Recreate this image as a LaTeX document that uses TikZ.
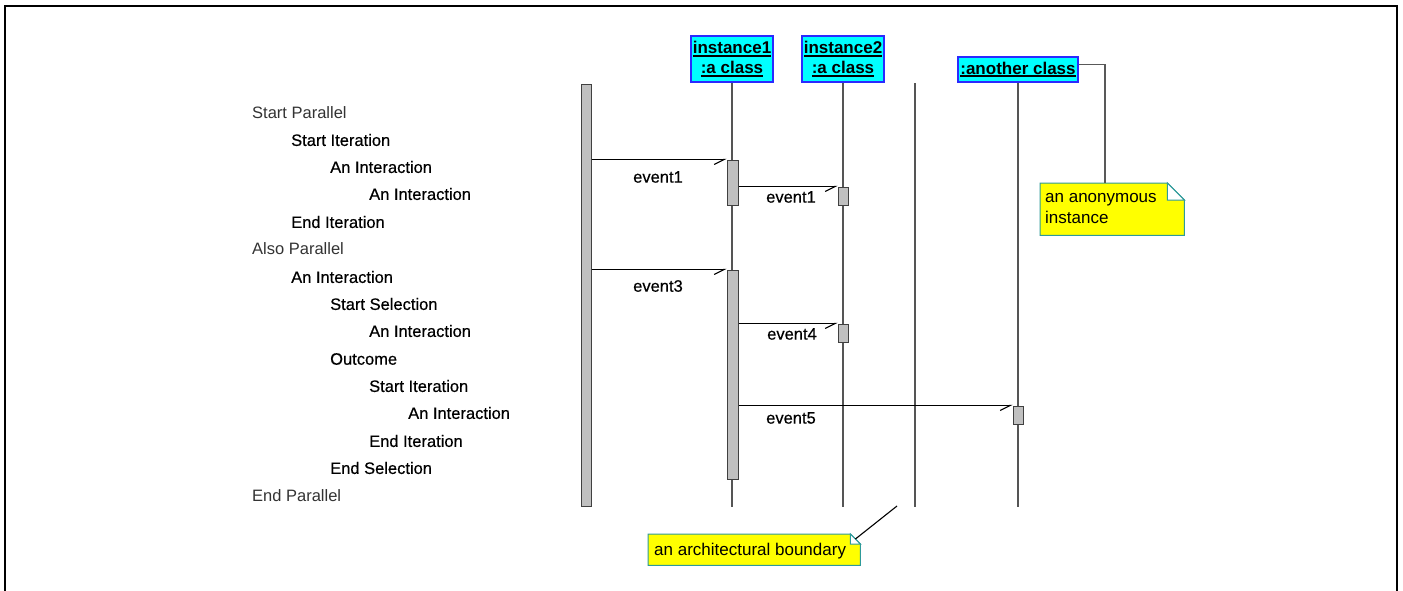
\documentclass[tikz,border=0pt]{standalone}
\usepackage{fontspec}
\setmainfont{Liberation Sans}
\newfontfamily\heavyfont[FakeBold=0.5]{Liberation Sans}
\usetikzlibrary{arrows.meta}
\definecolor{objfill}{HTML}{00FFFF}
\definecolor{objline}{HTML}{2A2AFF}
\definecolor{notefill}{HTML}{FFFF00}
\definecolor{noteline}{HTML}{2E9A9A}
\definecolor{actfill}{HTML}{C0C0C0}
\definecolor{lifegray}{HTML}{555555}
\newcommand{\ulbold}[1]{\setbox0\hbox{#1}\rlap{\rule[-2.8pt]{\wd0}{2pt}}\box0}
\tikzset{
  x=1pt, y=-1pt,
  frame/.style={line width=2.4pt, black},
  item/.style={anchor=west, inner sep=0pt, font=\fontsize{16.5}{18}\selectfont\heavyfont},
  plitem/.style={anchor=west, inner sep=0pt, font=\fontsize{16.5}{18}\selectfont, text=black!80},
  objbox/.style={draw=objline, fill=objfill, line width=1.2pt, inner sep=0pt,
    align=center, font=\fontsize{17}{21}\selectfont\bfseries},
  life/.style={draw=lifegray, line width=1.1pt},
  actbox/.style={draw=black!75, fill=actfill, line width=1pt, inner sep=0pt},
  msg/.style={draw=black, line width=1.3pt,
    -{Straight Barb[right, length=10pt, width=10pt, line width=1.1pt]}},
  evlabel/.style={inner sep=0pt, font=\fontsize{16.5}{18}\selectfont\heavyfont},
  notetext/.style={inner sep=0pt, align=left, anchor=north west,
    font=\fontsize{17}{21}\selectfont},
  notelink/.style={draw=black!65, line width=1.1pt},
}
\begin{document}
\begin{tikzpicture}
\useasboundingbox (0,0) rectangle (1403,590);
% outer frame, open at the bottom
\draw[frame] (5,595) -- (5,6) -- (1397,6) -- (1397,595);

% textual script of the interaction
\node[plitem] (t1)  at (252,113) {Start Parallel};
\node[item]   (t2)  at (291,140) {Start Iteration};
\node[item]   (t3)  at (330,167) {An Interaction};
\node[item]   (t4)  at (369,194) {An Interaction};
\node[item]   (t5)  at (291,222) {End Iteration};
\node[plitem] (t6)  at (252,249) {Also Parallel};
\node[item]   (t7)  at (291,277) {An Interaction};
\node[item]   (t8)  at (330,304) {Start Selection};
\node[item]   (t9)  at (369,331) {An Interaction};
\node[item]   (t10) at (330,359) {Outcome};
\node[item]   (t11) at (369,386) {Start Iteration};
\node[item]   (t12) at (408,413) {An Interaction};
\node[item]   (t13) at (369,441) {End Iteration};
\node[item]   (t14) at (330,468) {End Selection};
\node[plitem] (t15) at (252,496) {End Parallel};

% system border bar on the left
\node[actbox, minimum width=10pt, minimum height=422pt] (bar) at (586,295) {};

% object heads
\node[objbox, minimum width=82pt, minimum height=46pt] (i1) at (732,59)
  {\raisebox{-2pt}{\ulbold{instance1}}\\\raisebox{-1pt}{\ulbold{:a class}}};
\node[objbox, minimum width=82pt, minimum height=46pt] (i2) at (843,59)
  {\raisebox{-2pt}{\ulbold{instance2}}\\\raisebox{-1pt}{\ulbold{:a class}}};
\node[objbox, minimum width=120pt, minimum height=25pt] (i3) at (1018,69.5)
  {\raisebox{-1pt}{\ulbold{:another class}}};

% lifelines
\coordinate (e1) at (732,507);
\coordinate (e2) at (843,507);
\coordinate (e3) at (1018,507);
\coordinate (btop) at (915,83);
\coordinate (bbot) at (915,507);
\draw[life] (i1.south) -- (e1);
\draw[life] (i2.south) -- (e2);
\draw[life] (i3.south) -- (e3);
\draw[life] (btop) -- (bbot);

% activations
\node[actbox, minimum width=11pt, minimum height=45pt]  (a1) at (732.5,182.5) {};
\node[actbox, minimum width=10pt, minimum height=18pt]  (a2) at (843,196) {};
\node[actbox, minimum width=11pt, minimum height=209pt] (a3) at (732.5,374.5) {};
\node[actbox, minimum width=10pt, minimum height=18pt]  (a4) at (843,333) {};
\node[actbox, minimum width=10pt, minimum height=18pt]  (a5) at (1018,415) {};

% messages
\draw[msg] (bar.east |- a1.north) -- (a1.north west);
\draw[msg] (a1.east |- a2.north) -- (a2.north west);
\draw[msg] (bar.east |- a3.north) -- (a3.north west);
\draw[msg] (a3.east |- a4.north) -- (a4.north west);
\draw[msg] (a3.east |- a5.north) -- (a5.north west);
\node[evlabel] (l1) at (658,177) {event1};
\node[evlabel] (l2) at (791,197) {event1};
\node[evlabel] (l3) at (658,286) {event3};
\node[evlabel] (l4) at (792,334) {event4};
\node[evlabel] (l5) at (791,418) {event5};

% note: anonymous instance
\node[minimum width=144pt, minimum height=52pt, inner sep=0pt, anchor=north west] (n1) at (1040,183) {};
\filldraw[fill=notefill, draw=noteline, line width=1pt]
  (n1.north west) -- ([xshift=-17pt]n1.north east) -- ([yshift=-17pt]n1.north east)
  -- (n1.south east) -- (n1.south west) -- cycle;
\filldraw[fill=white, draw=noteline, line width=1pt]
  ([xshift=-17pt]n1.north east) -- ([xshift=-17pt,yshift=-17pt]n1.north east)
  -- ([yshift=-17pt]n1.north east) -- cycle;
\node[notetext] (n1t) at (1045,193) {an anonymous\\instance};
\draw[notelink] ([yshift=5pt]i3.east) -| ([xshift=65pt]n1.north west);

% note: architectural boundary
\node[minimum width=212pt, minimum height=31pt, inner sep=0pt, anchor=north west] (n2) at (648,534) {};
\filldraw[fill=notefill, draw=noteline, line width=1pt]
  (n2.north west) -- ([xshift=-10pt]n2.north east) -- ([yshift=-10pt]n2.north east)
  -- (n2.south east) -- (n2.south west) -- cycle;
\filldraw[fill=white, draw=noteline, line width=1pt]
  ([xshift=-10pt]n2.north east) -- ([xshift=-10pt,yshift=-10pt]n2.north east)
  -- ([yshift=-10pt]n2.north east) -- cycle;
\node[notetext, anchor=west] (n2t) at (654,551) {an architectural boundary};
\coordinate (bnote) at (897,506);
\draw[notelink, draw=black] ([xshift=-5pt,yshift=-5pt]n2.north east) -- (bnote);
\end{tikzpicture}
\end{document}
